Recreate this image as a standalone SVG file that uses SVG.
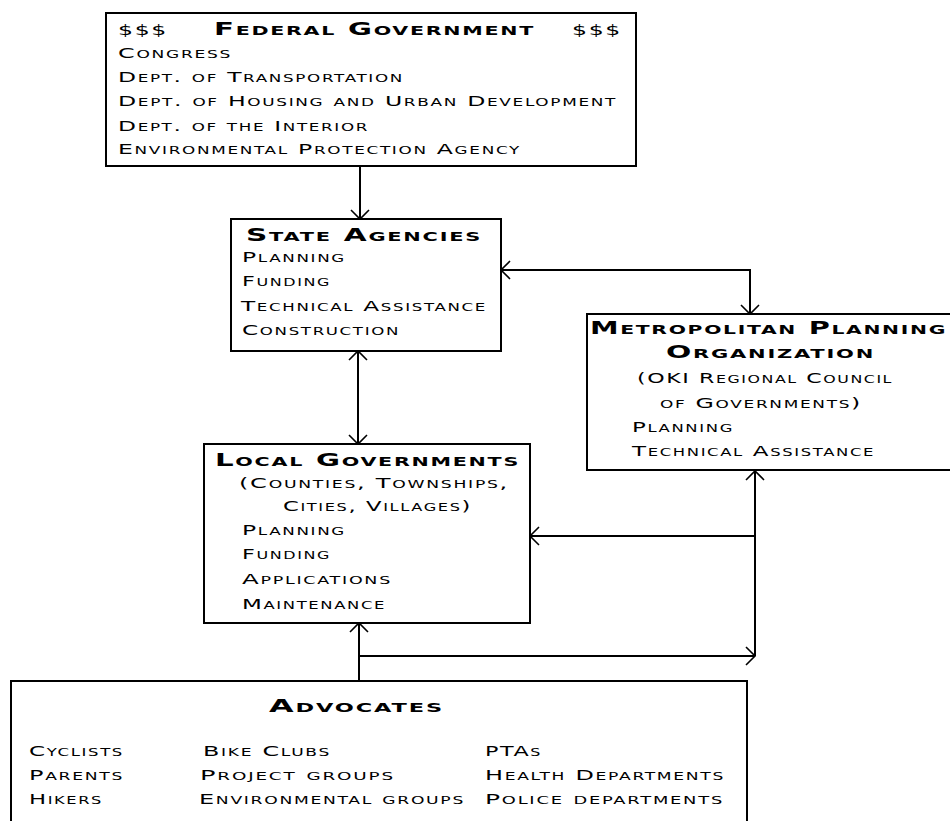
<svg xmlns="http://www.w3.org/2000/svg" width="950" height="821" viewBox="0 0 950 821">
<style>
text{font-family:"DejaVu Sans","Liberation Sans",sans-serif;font-variant:small-caps;fill:#000;letter-spacing:1px}
.t{font-size:17px;font-weight:bold}
.b{font-size:14px}
.box{fill:#fff;stroke:#000;stroke-width:2}
.c{fill:none;stroke:#000;stroke-width:2}
</style>
<defs>
<marker id="ah" viewBox="-11 -11 13 22" markerWidth="13" markerHeight="22" refX="0" refY="0" orient="auto-start-reverse" markerUnits="userSpaceOnUse">
<path d="M-9,-9 L0,0 L-9,9" fill="none" stroke="#000" stroke-width="1.6"/>
</marker>
</defs>
<rect width="950" height="821" fill="#fff"/>
<g id="connectors">
<path class="c" d="M360,166 V219" marker-end="url(#ah)"/>
<path class="c" d="M501,270 H750 V314" marker-start="url(#ah)" marker-end="url(#ah)"/>
<path class="c" d="M358,351 V444" marker-start="url(#ah)" marker-end="url(#ah)"/>
<path class="c" d="M359,681 V623" marker-end="url(#ah)"/>
<path class="c" d="M359,656 H755" marker-end="url(#ah)"/>
<path class="c" d="M755,656 V471" marker-end="url(#ah)"/>
<path class="c" d="M755,536 H530" marker-end="url(#ah)"/>
</g>
<g id="federal">
<rect class="box" x="106" y="13" width="530" height="153"/>
<text class="b" x="118" y="35" textLength="50" lengthAdjust="spacingAndGlyphs">$$$</text>
<text class="t" x="214" y="35" textLength="321" lengthAdjust="spacingAndGlyphs">Federal Government</text>
<text class="b" x="572" y="35" textLength="50" lengthAdjust="spacingAndGlyphs">$$$</text>
<text class="b" x="118" y="57.5" textLength="114" lengthAdjust="spacingAndGlyphs">Congress</text>
<text class="b" x="118" y="82" textLength="286" lengthAdjust="spacingAndGlyphs">Dept. of Transportation</text>
<text class="b" x="118" y="105.5" textLength="499" lengthAdjust="spacingAndGlyphs">Dept. of Housing and Urban Development</text>
<text class="b" x="118" y="130.5" textLength="251" lengthAdjust="spacingAndGlyphs">Dept. of the Interior</text>
<text class="b" x="118" y="154" textLength="403" lengthAdjust="spacingAndGlyphs">Environmental Protection Agency</text>
</g>
<g id="state">
<rect class="box" x="231" y="219" width="270" height="132"/>
<text class="t" x="246" y="241" textLength="236" lengthAdjust="spacingAndGlyphs">State Agencies</text>
<text class="b" x="242" y="262" textLength="104" lengthAdjust="spacingAndGlyphs">Planning</text>
<text class="b" x="242" y="286" textLength="89" lengthAdjust="spacingAndGlyphs">Funding</text>
<text class="b" x="241" y="311" textLength="246" lengthAdjust="spacingAndGlyphs">Technical Assistance</text>
<text class="b" x="242" y="335" textLength="158" lengthAdjust="spacingAndGlyphs">Construction</text>
</g>
<g id="mpo">
<rect class="box" x="587" y="314" width="380" height="156"/>
<text class="t" x="590" y="334" textLength="357" lengthAdjust="spacingAndGlyphs">Metropolitan Planning</text>
<text class="t" x="666" y="358" textLength="209" lengthAdjust="spacingAndGlyphs">Organization</text>
<text class="b" x="637" y="383" textLength="256" lengthAdjust="spacingAndGlyphs">(OKI Regional Council</text>
<text class="b" x="660" y="408" textLength="202" lengthAdjust="spacingAndGlyphs">of Governments)</text>
<text class="b" x="632" y="432" textLength="102" lengthAdjust="spacingAndGlyphs">Planning</text>
<text class="b" x="632" y="456" textLength="243" lengthAdjust="spacingAndGlyphs">Technical Assistance</text>
</g>
<g id="local">
<rect class="box" x="204" y="444" width="326" height="179"/>
<text class="t" x="215" y="466" textLength="305" lengthAdjust="spacingAndGlyphs">Local Governments</text>
<text class="b" x="239" y="488" textLength="270" lengthAdjust="spacingAndGlyphs">(Counties, Townships,</text>
<text class="b" x="283" y="511" textLength="189" lengthAdjust="spacingAndGlyphs">Cities, Villages)</text>
<text class="b" x="242" y="535" textLength="104" lengthAdjust="spacingAndGlyphs">Planning</text>
<text class="b" x="242" y="559" textLength="89" lengthAdjust="spacingAndGlyphs">Funding</text>
<text class="b" x="242" y="584" textLength="150" lengthAdjust="spacingAndGlyphs">Applications</text>
<text class="b" x="242" y="609" textLength="144" lengthAdjust="spacingAndGlyphs">Maintenance</text>
</g>
<g id="advocates">
<rect class="box" x="11" y="681" width="736" height="170"/>
<text class="t" x="269" y="712" textLength="175" lengthAdjust="spacingAndGlyphs">Advocates</text>
<text class="b" x="29" y="756" textLength="95" lengthAdjust="spacingAndGlyphs">Cyclists</text>
<text class="b" x="29" y="780" textLength="95" lengthAdjust="spacingAndGlyphs">Parents</text>
<text class="b" x="29" y="804" textLength="74" lengthAdjust="spacingAndGlyphs">Hikers</text>
<text class="b" x="203" y="756" textLength="128" lengthAdjust="spacingAndGlyphs">Bike Clubs</text>
<text class="b" x="200" y="780" textLength="195" lengthAdjust="spacingAndGlyphs">Project groups</text>
<text class="b" x="199" y="804" textLength="266" lengthAdjust="spacingAndGlyphs">Environmental groups</text>
<text class="b" x="485" y="756" textLength="57" lengthAdjust="spacingAndGlyphs">PTAs</text>
<text class="b" x="485" y="780" textLength="240" lengthAdjust="spacingAndGlyphs">Health Departments</text>
<text class="b" x="485" y="804" textLength="239" lengthAdjust="spacingAndGlyphs">Police departments</text>
</g>
</svg>
